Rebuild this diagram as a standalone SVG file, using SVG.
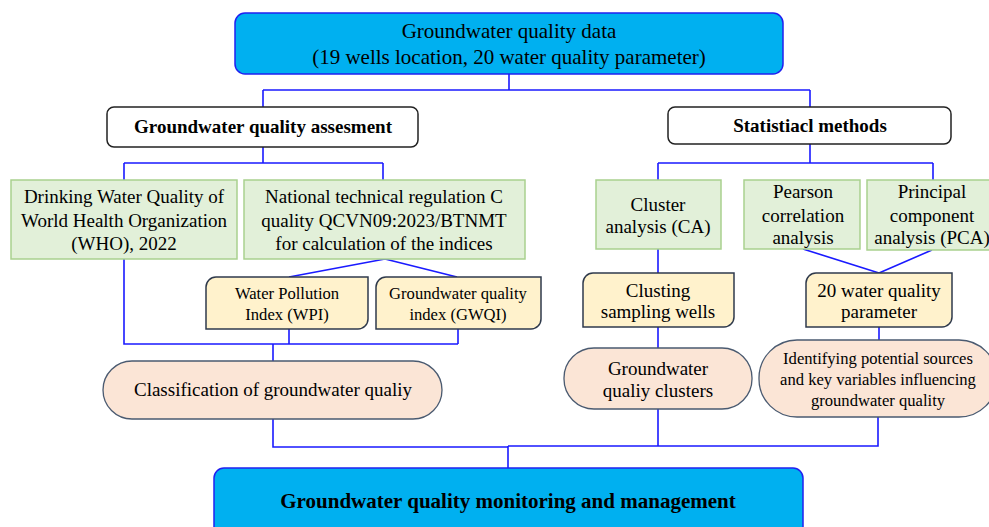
<svg xmlns="http://www.w3.org/2000/svg" width="989" height="527" viewBox="0 0 989 527">
<style>
text{font-family:"Liberation Serif","Times New Roman",serif;fill:#000;text-anchor:middle}
.blue{fill:#00B0F0;stroke:#2020F0;stroke-width:1.5}
.white{fill:#fff;stroke:#222;stroke-width:1.5}
.green{fill:#E2F0D9;stroke:#A9D18E;stroke-width:1.5}
.yellow{fill:#FFF2CC;stroke:#2F3A4C;stroke-width:1.5}
.peach{fill:#FBE5D6;stroke:#4A5A70;stroke-width:1.3}
.conn path{fill:none;stroke:#1A1AFF;stroke-width:1.6}
.b{font-weight:bold}
</style>
<rect width="989" height="527" fill="#fff"/>
<g class="conn" id="connectors">
<path d="M509,74 V90 M263,90 H810 M263,90 V107 M810,90 V107"/>
<path d="M263,147 V163 M124,163 H383 M124,163 V180 M383,163 V180"/>
<path d="M810,144 V163 M658,163 H933 M658,163 V180 M933,163 V180"/>
<path d="M385,259 L289,277 M385,259 L457,277"/>
<path d="M124,259 V344 H458 M289,329 V344 M458,329 V344 M273,344 V361"/>
<path d="M658,249 V273 M658,327 V348"/>
<path d="M803,249 L879,273 M932,250 L879,273 M879,327 V340"/>
<path d="M273,419 V447 H508 M658,409 V446 M878,417 V446 H508 M508,446 V468"/>
</g>
<g id="n-data">
<rect class="blue" x="235" y="13" width="548" height="61" rx="10"/>
<text x="509" y="38" font-size="21">Groundwater quality data</text>
<text x="509" y="64" font-size="21">(19 wells location, 20 water quality parameter)</text>
</g>
<g id="n-assess">
<rect class="white" x="107" y="107" width="311" height="40" rx="7"/>
<text class="b" x="263" y="133" font-size="19">Groundwater quality assesment</text>
</g>
<g id="n-stat">
<rect class="white" x="668" y="107" width="283" height="37" rx="7"/>
<text class="b" x="810" y="132" font-size="19">Statistiacl methods</text>
</g>
<g id="n-who">
<rect class="green" x="11" y="180" width="226" height="79"/>
<text x="124" y="203" font-size="19">Drinking Water Quality of</text>
<text x="124" y="227" font-size="19">World Health Organization</text>
<text x="124" y="250" font-size="19">(WHO), 2022</text>
</g>
<g id="n-national">
<rect class="green" x="244" y="180" width="281" height="79"/>
<text x="384" y="203" font-size="19">National technical regulation C</text>
<text x="384" y="227" font-size="19">quality QCVN09:2023/BTNMT</text>
<text x="384" y="250" font-size="19">for calculation of the indices</text>
</g>
<g id="n-wpi">
<path class="yellow" d="M216,277 H368 V319 A10,10 0 0 1 358,329 H206 V287 A10,10 0 0 1 216,277 Z"/>
<text x="287" y="299" font-size="16.6">Water Pollution</text>
<text x="287" y="320" font-size="16.6">Index (WPI)</text>
</g>
<g id="n-gwqi">
<path class="yellow" d="M386,277 H541 V319 A10,10 0 0 1 531,329 H376 V287 A10,10 0 0 1 386,277 Z"/>
<text x="458" y="299" font-size="16.6">Groundwater quality</text>
<text x="458" y="320" font-size="16.6">index (GWQI)</text>
</g>
<g id="n-class">
<rect class="peach" x="103" y="361" width="339" height="58" rx="29"/>
<text x="273" y="396" font-size="19">Classification of groundwater qualiy</text>
</g>
<g id="n-ca">
<rect class="green" x="596" y="180" width="125" height="69"/>
<text x="658" y="211" font-size="19">Cluster</text>
<text x="658" y="233" font-size="19">analysis (CA)</text>
</g>
<g id="n-pearson">
<rect class="green" x="744" y="180" width="116" height="69"/>
<text x="803" y="198" font-size="19">Pearson</text>
<text x="803" y="222" font-size="19">correlation</text>
<text x="803" y="244" font-size="19">analysis</text>
</g>
<g id="n-pca">
<rect class="green" x="867" y="180" width="130" height="70"/>
<text x="932" y="198" font-size="19">Principal</text>
<text x="932" y="222" font-size="19">component</text>
<text x="932" y="244" font-size="19">analysis (PCA)</text>
</g>
<g id="n-clusting">
<path class="yellow" d="M593,273 H734 V317 A10,10 0 0 1 724,327 H583 V283 A10,10 0 0 1 593,273 Z"/>
<text x="658" y="297" font-size="19">Clusting</text>
<text x="658" y="318" font-size="19">sampling wells</text>
</g>
<g id="n-param">
<path class="yellow" d="M816,273 H952 V317 A10,10 0 0 1 942,327 H806 V283 A10,10 0 0 1 816,273 Z"/>
<text x="879" y="297" font-size="19">20 water quality</text>
<text x="879" y="318" font-size="19">parameter</text>
</g>
<g id="n-clusters">
<rect class="peach" x="564" y="348" width="188" height="61" rx="30"/>
<text x="658" y="375" font-size="19">Groundwater</text>
<text x="658" y="397" font-size="19">qualiy clusters</text>
</g>
<g id="n-ident">
<rect class="peach" x="759" y="340" width="238" height="77" rx="38"/>
<text x="878" y="364" font-size="16.6">Identifying potential sources</text>
<text x="878" y="385" font-size="16.6">and key variables influencing</text>
<text x="878" y="406" font-size="16.6">groundwater quality</text>
</g>
<g id="n-monitor">
<rect class="blue" x="214" y="468" width="589" height="70" rx="10"/>
<text class="b" x="508" y="508" font-size="21">Groundwater quality monitoring and management</text>
</g>
</svg>
